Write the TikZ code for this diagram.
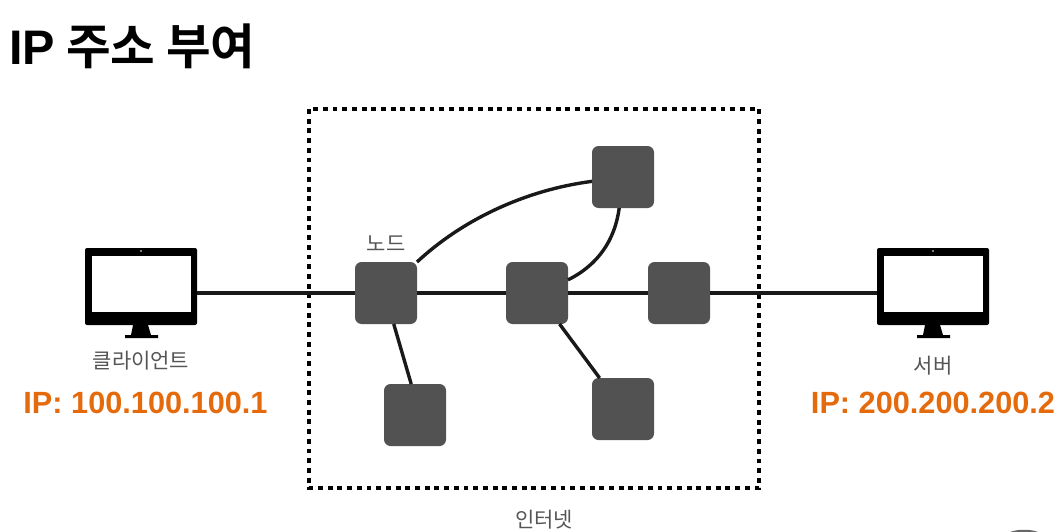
\documentclass[tikz,border=0pt]{standalone}
\usepackage{fontspec}
\setmainfont{Liberation Sans}
\newfontfamily\krfont{Noto Sans CJK KR}
\newfontfamily\krbold{Noto Sans CJK KR Bold}
\definecolor{nodegray}{HTML}{525252}
\definecolor{ipor}{HTML}{E56A0C}
\definecolor{labelgray}{HTML}{555555}
\tikzset{
  netnode/.style={draw=none,fill=nodegray,rounded corners=6.5pt,minimum width=62pt,minimum height=62pt,inner sep=0pt,outer sep=0pt},
  monbody/.style={draw=none,fill=black,rounded corners=2pt,minimum width=112pt,minimum height=77pt,inner sep=0pt,outer sep=0pt},
  link/.style={line width=3.4pt,draw=black!90},
  cloudbox/.style={draw=black,line width=4.6pt,dash pattern=on 4.9pt off 4.8pt},
  lbl/.style={text=labelgray,inner sep=0pt,font=\krfont\fontsize{21}{25}\selectfont},
  iplbl/.style={text=ipor,inner sep=0pt,font=\bfseries\fontsize{30.7}{35}\selectfont},
  titlelbl/.style={text=black,inner sep=0pt,anchor=west,font=\krbold\fontsize{48.5}{54}\selectfont},
}
\newcommand{\monitorat}[2]{%
  \node[monbody] (#1) at (#2,286.5) {};
  \fill[white] (#2-49.5,256) rectangle (#2+49.5,312);
  \fill[white] (#2,251) circle (0.9pt);
  \fill[black] (#2-8,325) -- (#2+7,325) -- (#2+10,335) -- (#2+17,335) -- (#2+17,338) -- (#2-16,338) -- (#2-16,335) -- (#2-10,335) -- cycle;
}
\begin{document}
\begin{tikzpicture}[x=1pt,y=-1pt]
\useasboundingbox (0,0) rectangle (1062,532);
\node[titlelbl] (title) at (9,46) {{\fontspec{Liberation Sans Bold}IP} 주소 부여};
\draw[cloudbox] (309,109) rectangle (759,488);
\monitorat{client}{141}
\monitorat{server}{933}
\coordinate (clientport) at (197,293);
\coordinate (serverport) at (877,293);
\node[netnode] (n1) at (386,293) {};
\node[netnode] (n2) at (537,293) {};
\node[netnode] (n3) at (679,293) {};
\node[netnode] (n4) at (623,177) {};
\node[netnode] (n5) at (415,415) {};
\node[netnode] (n6) at (623,409) {};
\draw[link] (clientport) -- (n1.west);
\draw[link] (n1.east) -- (n2.west);
\draw[link] (n2.east) -- (n3.west);
\draw[link] (n3.east) -- (serverport);
\draw[link] (n1.north east) .. controls (462,220) and (525,190) .. (n4.188);
\draw[link] (n4.-97) .. controls (615,240) and (598,265) .. (n2.23);
\draw[link] (n1.-76) -- (n5.97);
\draw[link] (n2.-54) -- (n6.127);
\node[lbl] (lclient) at (141,361) {클라이언트};
\node[lbl] (lserver) at (933,366) {서버};
\node[lbl] (lnode) at (386,244) {노드};
\node[lbl] (lnet) at (544,520) {인터넷};
\node[iplbl] (ipc) at (145.5,403) {IP: 100.100.100.1};
\node[iplbl] (ips) at (933,403) {IP: 200.200.200.2};
\fill[black!60] (1010,532) .. controls (1018,529) and (1030,529) .. (1038,532) -- cycle;
\end{tikzpicture}
\end{document}
